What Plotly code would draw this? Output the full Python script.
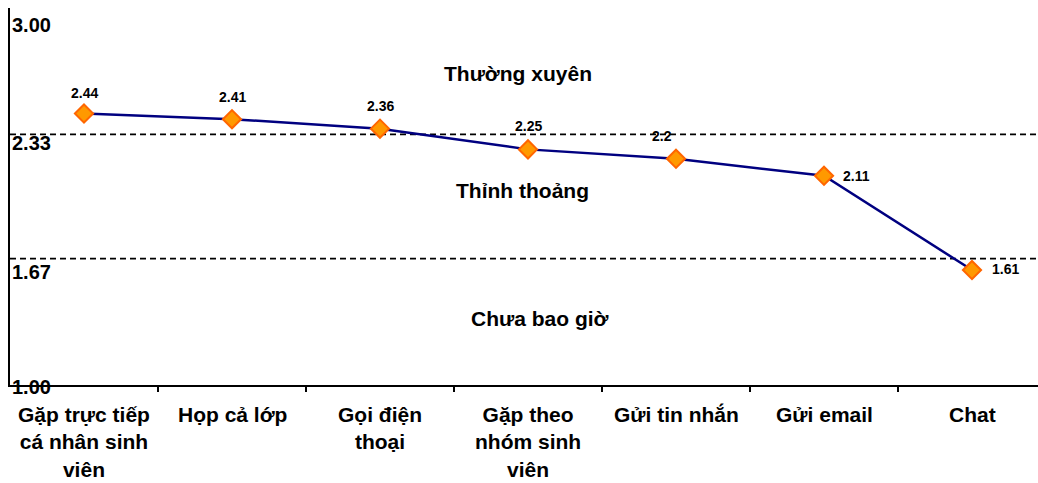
import plotly.graph_objects as go

# Contact channels and their mean frequency scores (1 = never, 3 = often)
categories = [
    "Gặp trực tiếp<br>cá nhân sinh<br>viên",
    "Họp cả lớp",
    "Gọi điện<br>thoại",
    "Gặp theo<br>nhóm sinh<br>viên",
    "Gửi tin nhắn",
    "Gửi email",
    "Chat",
]
scores = [2.44, 2.41, 2.36, 2.25, 2.2, 2.11, 1.61]

# Scale boundaries and their labels
boundaries = [2.33, 1.67]
scale_ticks = [3.00, 2.33, 1.67, 1.00]
zones = ["Thường xuyên", "Thỉnh thoảng", "Chưa bao giờ"]

FONT = "Liberation Sans, Arial, sans-serif"
xs = list(range(len(categories)))

fig = go.Figure()
fig.add_trace(go.Scatter(
    x=xs, y=scores, mode="lines+markers",
    line=dict(color="#000080", width=2.5),
    marker=dict(symbol="diamond", size=14, color="#FF9900",
                line=dict(color="#FF6600", width=2)),
    hoverinfo="skip", showlegend=False,
))

# Dashed boundary lines between zones
for b in boundaries:
    fig.add_shape(type="line", xref="paper", yref="y", x0=0, x1=1, y0=b, y1=b,
                  line=dict(color="black", width=1.7, dash="6px,4px"), layer="below")

annotations = []
# Value labels above/right of the markers
val_offsets = [(0, 21, "center"), (0, 22, "center"), (0, 23, "center"),
               (0, 23, "center"), (-14, 23, "center"), (17, 0, "left"), (18, 1, "left")]
for x, v, (dx, dy, anchor) in zip(xs, scores, val_offsets):
    annotations.append(dict(
        x=x, y=v, xref="x", yref="y", text=f"<b>{v:g}</b>", showarrow=False,
        xanchor=anchor, yanchor="middle", xshift=dx, yshift=dy,
        font=dict(family=FONT, size=14, color="black"),
    ))

# Scale labels inside the plot, next to the vertical axis
tick_shift = {3.00: -17, 2.33: -9, 1.67: -13, 1.00: -2}
for t in scale_ticks:
    annotations.append(dict(
        x=0, y=t, xref="paper", yref="y", text=f"<b>{t:.2f}</b>", showarrow=False,
        xanchor="left", yanchor="middle", xshift=0, yshift=tick_shift[t],
        font=dict(family=FONT, size=20, color="black"),
    ))

# Zone names
zone_pos = [(2.93, 2.655), (2.96, 2.034), (3.08, 1.355)]
for name, (zx, zy) in zip(zones, zone_pos):
    annotations.append(dict(
        x=zx, y=zy, xref="x", yref="y", text=f"<b>{name}</b>", showarrow=False,
        xanchor="center", yanchor="middle",
        font=dict(family=FONT, size=21, color="black"),
    ))

# Category labels below the axis
for x, c in zip(xs, categories):
    annotations.append(dict(
        x=x, y=0, xref="x", yref="paper", text=f"<b>{c}</b>", showarrow=False,
        xanchor="center", yanchor="top", yshift=-16,
        font=dict(family=FONT, size=21, color="black"),
    ))

fig.update_layout(
    width=1038, height=483,
    margin=dict(l=10, r=0, t=8, b=98),
    paper_bgcolor="white", plot_bgcolor="white",
    annotations=annotations,
    showlegend=False,
    xaxis=dict(range=[-0.5, -0.5 + 1028 / 148], showgrid=False, zeroline=False,
               showline=True, linecolor="black", linewidth=2,
               tickmode="array", tickvals=[i + 0.5 for i in xs[:-1]],
               ticks="outside", ticklen=5, tickwidth=2, tickcolor="black",
               showticklabels=False),
    yaxis=dict(range=[1, 3], showgrid=False, zeroline=False,
               showline=True, linecolor="black", linewidth=2,
               ticks="", showticklabels=False),
)

fig.write_html("out.html")
